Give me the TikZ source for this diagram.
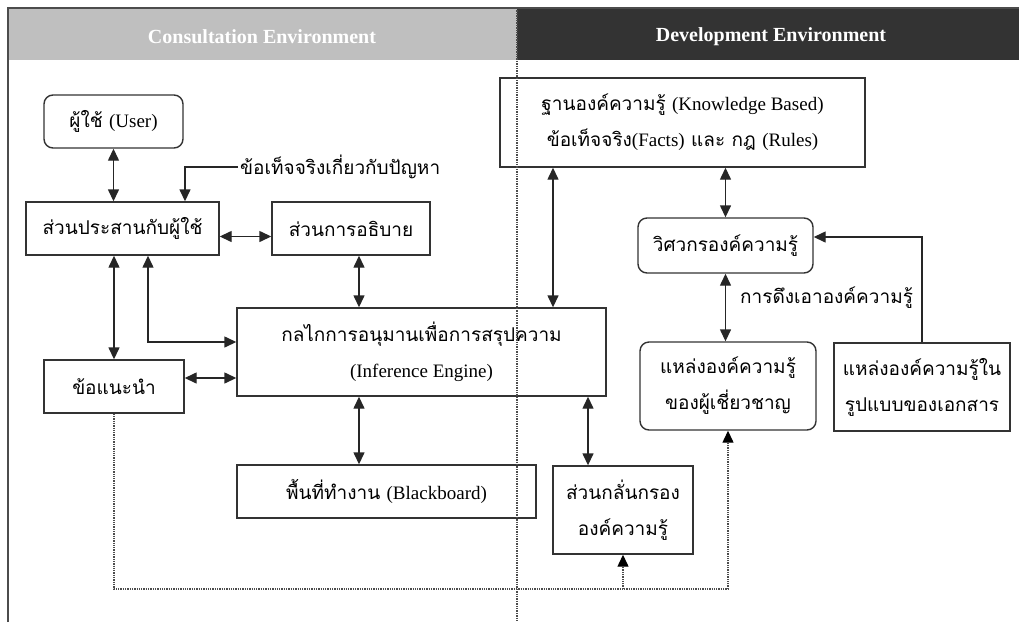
\documentclass[tikz,border=0pt]{standalone}
\usepackage{fontspec}
\setmainfont{Liberation Serif}
\newfontfamily\thaifont[Script=Thai]{Loma}
\usetikzlibrary{arrows.meta,positioning,calc}
\newcommand{\eng}[1]{{\rmfamily #1}}
\tikzset{box/.style={draw=black!80,line width=1.4pt,fill=white,inner sep=0pt,align=center,
    font=\thaifont\fontsize{19}{36}\selectfont}}
\tikzset{rbox/.style={box,rounded corners=9pt}}
\tikzset{link/.style={{Triangle[length=12pt,width=11pt]}-{Triangle[length=12pt,width=11pt]},line width=1.4pt,black!85}}
\tikzset{feed/.style={-{Triangle[length=12pt,width=11pt]},line width=1.4pt,black!85}}
\tikzset{dots/.style={densely dotted,line width=1.3pt,black!70}}
\tikzset{head/.style={text=white,font=\bfseries\fontsize{20}{24}\selectfont}}
\tikzset{note/.style={font=\thaifont\fontsize{19}{24}\selectfont,inner sep=2pt}}

\begin{document}
\begin{tikzpicture}[x=1pt,y=-1pt]
        \useasboundingbox (0,0) rectangle (1019,622);
        % header bands
        \fill [gray!50] (8,8) rectangle (517,60);
        \fill [black!80] (517,8) rectangle (1019,60);
        \draw [black!70,line width=1.5pt] (8,622) -- (8,8) -- (1019,8);
        \node [head] (consult) at (262,37) {Consultation Environment};
        \node [head] (develop) at (771,37) {Development Environment};
        % consultation side
        \node [rbox,minimum width=139pt,minimum height=53pt] (user) at (113.5,121.5) {ผู้ใช้ \eng{(User)}};
        \node [box,minimum width=193pt,minimum height=53pt] (iface) at (122.5,228.5) {ส่วนประสานกับผู้ใช้};
        \node [box,minimum width=158pt,minimum height=53pt] (explain) at (351,228.5) {ส่วนการอธิบาย};
        \node [box,minimum width=140pt,minimum height=53pt] (advice) at (114,386.5) {ข้อแนะนำ};
        \node [box,minimum width=369pt,minimum height=88pt] (infer) at (421.5,352)
            {กลไกการอนุมานเพื่อการสรุปความ\\\eng{(Inference Engine)}};
        \node [box,minimum width=299pt,minimum height=53pt] (board) at (386.5,491.5) {พื้นที่ทำงาน \eng{(Blackboard)}};
        \node [note,anchor=west] (facts) at (238,167) {ข้อเท็จจริงเกี่ยวกับปัญหา};
        % development side
        \node [box,minimum width=365pt,minimum height=89pt] (kb) at (682.5,122.5)
            {ฐานองค์ความรู้ \eng{(Knowledge Based)}\\ข้อเท็จจริง\eng{(Facts)} และ กฎ \eng{(Rules)}};
        \node [rbox,minimum width=175pt,minimum height=55pt] (engineer) at (725.5,245.5) {วิศวกรองค์ความรู้};
        \node [rbox,minimum width=176pt,minimum height=88pt] (expert) at (728,386) {แหล่งองค์ความรู้\\ของผู้เชี่ยวชาญ};
        \node [box,minimum width=176pt,minimum height=88pt] (docs) at (922,387) {แหล่งองค์ความรู้ใน\\รูปแบบของเอกสาร};
        \node [box,minimum width=140pt,minimum height=88pt] (refine) at (623,510) {ส่วนกลั่นกรอง\\องค์ความรู้};
        \node [note,anchor=west] (extract) at (738,298) {การดึงเอาองค์ความรู้};
        % connectors
        \draw [link] (user.south) -- (user.south |- iface.north);
        \draw [feed] (facts.west) -| ([xshift=62.5pt]iface.north);
        \draw [link] ([yshift=-8pt]iface.east) -- ([yshift=-8pt]explain.west);
        \draw [link] ([xshift=8pt]explain.south) -- ([xshift=8pt]explain.south |- infer.north);
        \draw [link] (iface.south -| advice.north) -- (advice.north);
        \draw [link] ([xshift=25.5pt]iface.south) |- ([yshift=10pt]infer.west);
        \draw [link] ([yshift=8.5pt]advice.east) -- ([yshift=8.5pt]advice.east -| infer.west);
        \draw [link] ([xshift=-27.5pt]board.north |- infer.south) -- ([xshift=-27.5pt]board.north);
        \draw [link] ([xshift=-35pt]refine.north |- infer.south) -- ([xshift=-35pt]refine.north);
        \draw [link] ([xshift=-129.5pt]kb.south) -- ([xshift=-129.5pt]kb.south |- infer.north);
        \draw [link] (kb.south -| engineer.north) -- (engineer.north);
        \draw [link] (engineer.south) -- (engineer.south |- expert.north);
        \draw [feed] (docs.north) |- ([yshift=8.5pt]engineer.east);
        \coordinate (low) at (114,589);
        \draw [dots] (advice.south) |- (expert.south |- low);
        \draw [dots,-{Triangle[length=12pt,width=11pt,black]}] (expert.south |- low) -- (expert.south);
        \draw [dots,-{Triangle[length=12pt,width=11pt,black]}] (refine.south |- low) -- (refine.south);
        % divider
        \draw [dots,line width=1.4pt] (517,8) -- (517,622);
    \end{tikzpicture}
\end{document}
